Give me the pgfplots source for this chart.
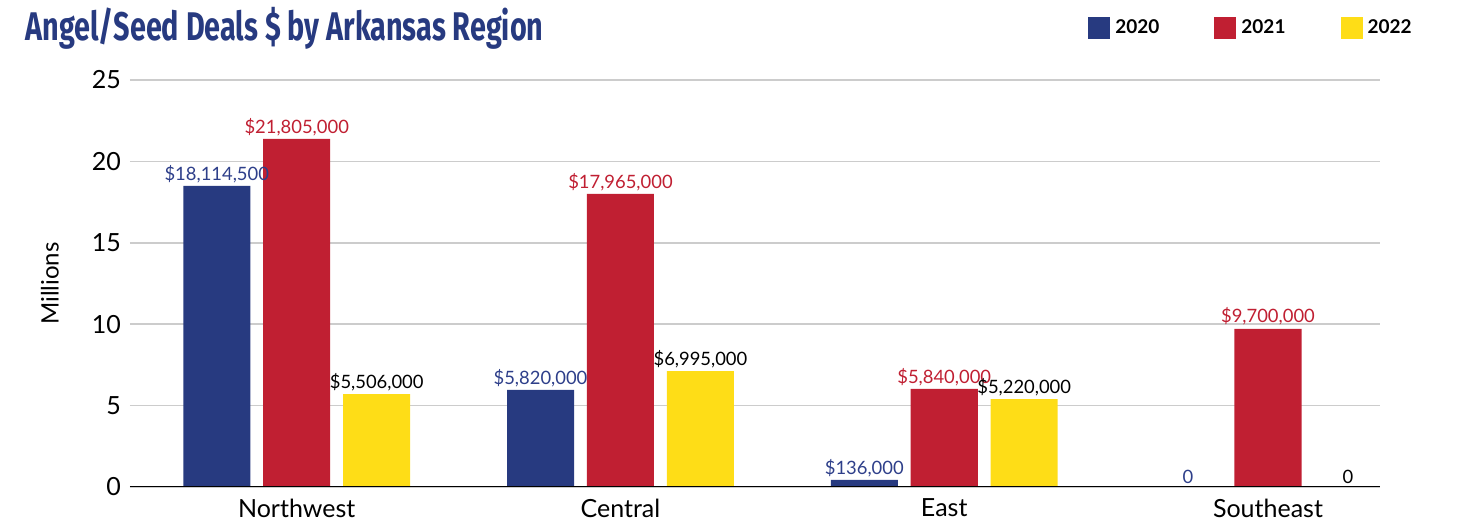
\documentclass[border=0pt]{standalone}
\usepackage{pgfplots}
\pgfplotsset{compat=1.18}
\usepackage{fontspec}
\setmainfont{Lato}
\newfontfamily\titlefont[FakeStretch=0.72]{Fira Sans}
\definecolor{cblue}{HTML}{273A80}
\definecolor{cred}{HTML}{C01F32}
\definecolor{cyel}{HTML}{FEDD17}
\definecolor{lblue}{HTML}{2E3F8A}
\definecolor{cgrid}{HTML}{CCCCCC}
\begin{document}
\begin{tikzpicture}
\path[use as bounding box] (-65pt,-18pt) rectangle (666.5pt,243.5pt);
\begin{axis}[
  at={(0pt,0pt)}, anchor=south west,
  scale only axis, width=625pt, height=203.5pt,
  xmin=-0.515, xmax=3.346, ymin=0, ymax=25,
  ytick={0,5,10,15,20,25},
  xtick={0,1,2,3},
  xticklabels={Northwest,Central,East,Southeast},
  /pgf/number format/assume math mode=true,
  axis line style={draw=none},
  major tick length=0pt,
  ymajorgrids, grid style={cgrid, line width=0.8pt},
  tick label style={font=\fontsize{12.5}{14}\selectfont, text=black},
  yticklabel style={xshift=-1pt},
  xticklabel style={yshift=-2.5pt},
  ylabel={Millions},
  ylabel style={font=\fontsize{12}{14}\selectfont, at={(axis description cs:-0.064,0.5)}, anchor=center},
  ybar, bar width=0.207,
  nodes near coords,
  point meta=explicit symbolic,
  every node near coord/.append style={font=\fontsize{9.2}{11}\selectfont, inner sep=1.5pt},
  legend columns=3,
  legend style={draw=none, at={(1.0296,1.128)}, anchor=east, font=\fontsize{9.5}{11}\selectfont\bfseries,
    /tikz/every even column/.append style={column sep=25pt}, inner sep=0pt,
    nodes={inner sep=2.5pt}},
  legend image code/.code={\fill[#1] (0pt,-5.5pt) rectangle (11pt,5.5pt);},
]
\addplot[fill=cblue, draw=none, bar shift=-0.247, every node near coord/.append style={text=lblue}]
  coordinates {(0,18.49) [\$18,114,500] (1,5.96) [\$5,820,000] (2,0.43) [\$136,000] (3,0) [0]};
\addplot[fill=cred, draw=none, bar shift=0, every node near coord/.append style={text=cred}]
  coordinates {(0,21.38) [\$21,805,000] (1,18.0) [\$17,965,000] (2,6.02) [\$5,840,000] (3,9.72) [\$9,700,000]};
\addplot[fill=cyel, draw=none, bar shift=0.247, every node near coord/.append style={text=black}]
  coordinates {(0,5.71) [\$5,506,000] (1,7.12) [\$6,995,000] (2,5.4) [\$5,220,000] (3,0) [0]};
\legend{2020,2021,2022}
\draw[black, line width=0.9pt] (axis cs:-0.515,0) -- (axis cs:3.346,0);
\end{axis}
\node[anchor=west, text=cblue, font=\titlefont\bfseries\fontsize{20}{24}\selectfont, inner sep=0pt] at (-52.5pt,229.5pt) {Angel/Seed Deals \$ by Arkansas Region};
\end{tikzpicture}
\end{document}
